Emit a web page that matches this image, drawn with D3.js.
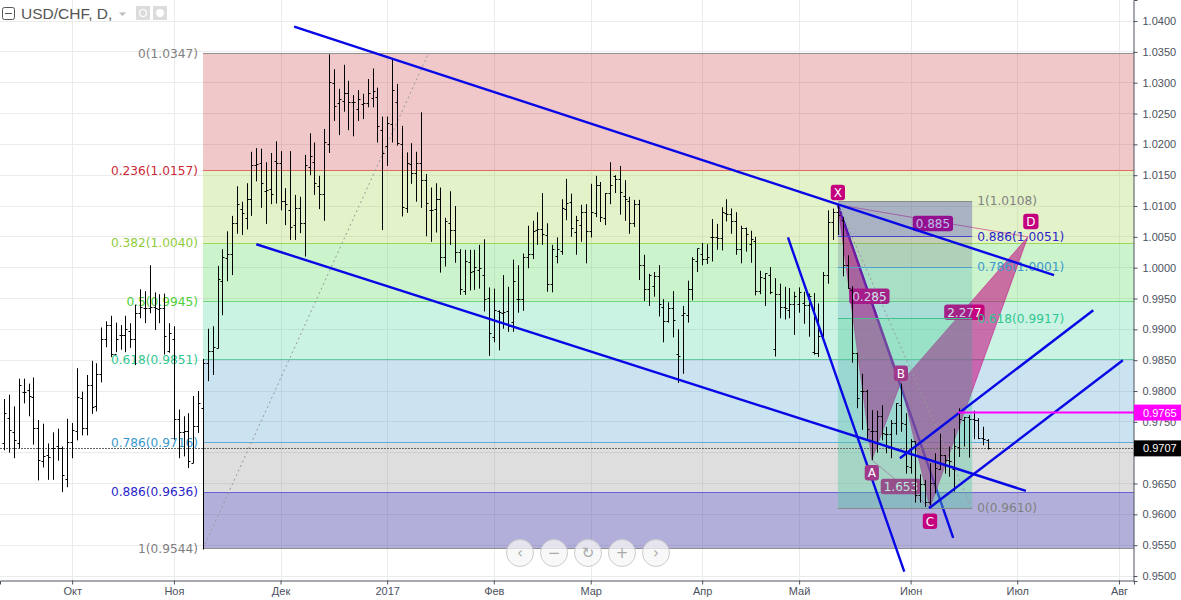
<!DOCTYPE html>
<html>
<head>
<meta charset="utf-8">
<script src="https://cdn.jsdelivr.net/npm/d3@7/dist/d3.min.js"></script>
<style>
  html, body { margin: 0; padding: 0; background: #fff; overflow: hidden; }
  svg { display: block; }
  .axis text { font-family: "Liberation Sans", Arial, sans-serif; font-size: 11px; fill: #4c525e; }
  .axis path, .axis line { stroke: #4c525e; }
  .fib { font-family: "DejaVu Sans", sans-serif; font-size: 12.2px; }
</style>
</head>
<body>
<div id="chart"></div>
<script>
// USD/CHF daily bars, prices x 10000
const highs = [
  9787,9794,9775,9820,9820,9812,9822,9753,9747,9715,
  9733,9739,9710,9755,9748,9837,9799,9826,9849,9845,
  9903,9913,9922,9911,9907,9922,9910,9940,9965,9962,
  10004,9960,9957,9958,9910,9905,9770,9759,9764,9792,
  9800,9852,9901,9905,10003,10030,10059,10084,10132,10107,
  10137,10188,10194,10193,10171,10186,10205,10189,10129,10189,
  10118,10115,10183,10218,10203,10149,10225,10346,10322,10290,
  10329,10303,10280,10288,10282,10306,10323,10292,10245,10245,
  10339,10298,10230,10187,10202,10188,10252,10152,10130,10137,
  10130,10081,10124,10100,10030,10029,10029,10029,10037,10046,
  9968,9966,9931,9988,9969,10013,10004,10023,10068,10076,
  10090,10121,10072,10037,10049,10111,10144,10120,10084,10102,
  10103,10136,10149,10139,10121,10171,10150,10165,10142,10115,
  10110,10110,10021,9990,9993,10004,9949,9944,9962,9900,
  9938,9979,10017,10031,10040,10038,10079,10071,10098,10111,
  10096,10090,10068,10065,10060,10050,9995,9991,10001,9983,
  9974,9969,9967,9961,9968,9961,9958,9959,9942,9993,
  10093,10096,10101,10082,10020,9970,9862,9828,9802,9769,
  9768,9777,9742,9753,9780,9812,9764,9722,9718,9665,
  9656,9683,9699,9731,9696,9710,9739,9772,9758,9761,
  9768,9756,9742,9722
];
const lows = [
  9704,9700,9691,9707,9780,9759,9713,9655,9676,9656,
  9656,9687,9636,9644,9691,9720,9728,9728,9763,9767,
  9814,9871,9855,9863,9867,9863,9870,9842,9918,9910,
  9926,9899,9910,9859,9862,9721,9691,9694,9675,9683,
  9732,9543,9816,9826,9869,9923,9978,9988,10055,10053,
  10062,10084,10140,10097,10071,10103,10104,10093,10069,10045,
  10045,10056,10018,10150,10118,10095,10076,10186,10238,10215,
  10253,10223,10213,10238,10241,10260,10260,10203,10061,10165,
  10203,10198,10083,10089,10136,10107,10097,10051,10042,10057,
  9992,10002,10037,10008,9956,9956,9963,9964,9966,9929,
  9857,9879,9866,9901,9896,9896,9927,9930,9999,10014,
  10037,10037,9961,9960,10007,10021,10077,10050,10021,10042,
  10007,10049,10082,10074,10069,10103,10121,10086,10076,10055,
  10066,9980,9946,9938,9953,9921,9879,9911,9887,9813,
  9828,9911,9947,9993,10004,10006,10010,10029,10028,10075,
  10055,10021,10007,10026,10008,9955,9957,9938,9957,9856,
  9918,9916,9918,9891,9927,9909,9888,9859,9855,9882,
  9974,10045,10053,9986,9966,9846,9772,9737,9720,9688,
  9700,9720,9699,9691,9729,9734,9666,9666,9619,9619,
  9612,9615,9634,9672,9666,9661,9637,9693,9710,9692,
  9722,9722,9712,9705
];
const opens = [
  9715,9756,9733,9715,9797,9801,9790,9739,9686,9695,
  9707,9710,9707,9657,9717,9735,9788,9739,9809,9775,
  9826,9884,9906,9859,9890,9890,9897,9884,9926,9934,
  9934,9936,9932,9933,9864,9884,9754,9732,9735,9683,
  9743,9772,9844,9864,9869,9978,10015,10021,10071,10095,
  10080,10110,10166,10169,10123,10126,10173,10169,10107,10092,
  10068,10096,10071,10162,10171,10131,10119,10199,10299,10266,
  10269,10283,10268,10256,10264,10266,10275,10276,10222,10197,
  10232,10268,10200,10096,10167,10152,10169,10141,10092,10094,
  10110,10017,10072,10060,10024,9961,10008,9994,9996,9987,
  9950,9887,9929,9926,9929,9911,9948,9948,10017,10021,
  10060,10062,10053,9972,10018,10027,10094,10106,10057,10068,
  10089,10058,10088,10133,10080,10120,10148,10143,10115,10108,
  10071,10102,10003,9964,9969,9986,9936,9913,9934,9859,
  9923,9922,9964,10010,10022,10014,10049,10049,10048,10088,
  10086,10075,10029,10063,10037,10043,9961,9983,9988,9867,
  9956,9936,9931,9940,9940,9942,9939,9862,9861,9888,
  9988,10074,10090,10077,10004,9963,9861,9799,9799,9734,
  9734,9758,9729,9729,9748,9777,9745,9676,9718,9630,
  9649,9620,9650,9673,9695,9688,9672,9709,9752,9757,
  9753,9752,9723,9720
];
const closes = [
  9764,9736,9720,9809,9797,9791,9739,9687,9694,9692,
  9706,9706,9663,9717,9736,9790,9739,9809,9774,9826,
  9884,9907,9859,9883,9890,9899,9884,9926,9936,9934,
  9936,9934,9933,9889,9894,9754,9733,9735,9686,9743,
  9780,9844,9864,9870,9981,10017,10021,10072,10102,10088,
  10111,10166,10168,10136,10125,10118,10169,10108,10103,10065,
  10096,10071,10165,10181,10136,10119,10203,10300,10262,10273,
  10283,10268,10268,10273,10266,10282,10285,10229,10185,10234,
  10288,10201,10098,10169,10152,10169,10141,10104,10092,10110,
  10016,10075,10061,10024,9964,10010,9993,10000,9998,9949,
  9894,9930,9928,9927,9904,9977,9948,10017,10021,10058,
  10062,10054,9972,10029,10029,10096,10104,10064,10076,10090,
  10058,10089,10134,10082,10121,10133,10143,10122,10110,10072,
  10102,10004,9964,9988,9986,9940,9913,9934,9915,9856,
  9926,9964,10014,10031,10014,10017,10049,10048,10089,10086,
  10075,10029,10064,10054,10045,9961,9984,9990,9960,9956,
  9936,9933,9940,9953,9959,9939,9954,9861,9888,9988,
  10074,10090,10085,10004,9966,9861,9788,9799,9737,9734,
  9758,9731,9729,9748,9780,9748,9677,9718,9631,9649,
  9620,9650,9675,9695,9688,9685,9710,9753,9757,9753,
  9752,9723,9722,9706
];

// axis ticks (bar index for months)
const monthBars = [14, 35, 57, 79, 101, 121, 144, 164, 187, 209, 230];
const monthLabels = ['Окт', 'Ноя', 'Дек', '2017', 'Фев', 'Мар', 'Апр', 'Май', 'Июн', 'Июл', 'Авг'];
const priceTicks = [1.04, 1.035, 1.03, 1.025, 1.02, 1.015, 1.01, 1.005, 1.0, 0.995, 0.99, 0.985, 0.98, 0.975, 0.97, 0.965, 0.96, 0.955, 0.95];

// big fib retracement
const bigFibStartBar = 41;
const bigFibRatios = [0, 0.236, 0.382, 0.5, 0.618, 0.786, 0.886, 1];
const bigFibPrices = [1.0347, 1.0157, 1.0040, 0.9945, 0.9851, 0.9716, 0.9636, 0.9544];
const bigFibDiagonalEndBar = 87.5;

// small fib, X to C
const smallFibBars = [172, 199.7];
const smallFibRatios = [1, 0.886, 0.786, 0.618, 0];
const smallFibPrices = [1.0108, 1.0051, 1.0001, 0.9917, 0.9610];

// trend lines: bar, price, bar, price
const channelUpper = [59.8, 1.0391, 216.6, 0.9988];
const channelLower = [52.0, 1.0038, 210.8, 0.9638];
const steepLine = [161.7, 1.0049, 185.7, 0.9507];
const xbLine = [172, 1.0102, 195.8, 0.9562];
const riseUpper = [184.8, 0.9691, 224.7, 0.9931];
const riseLower = [190.8, 0.9610, 230.8, 0.9850];

// harmonic pattern
const patternNames = ['X', 'A', 'B', 'C', 'D'];
const patternBars = [172, 179, 185, 191, 211.2];
const patternPrices = [1.0102, 0.9688, 0.9814, 0.9611, 1.0050];
const patternRatios = ['0.285', '2.277', '1.653', '0.885'];

const lastPrice = 0.9707;
const markedPrice = 0.9765;
const markedPriceBar = 196.8;

const width = 1181;
const height = 600;
const plotRight = 1134;
const plotBottom = 581;

const x = d3.scaleLinear().domain([-0.887, 233.1]).range([0, plotRight]);
const y = d3.scaleLinear().domain([0.94919, 1.04341]).range([plotBottom, 0]);

const svg = d3.select('#chart').append('svg')
  .attr('width', width)
  .attr('height', height)
  .style('background', '#fff');

const crisp = v => Math.round(v) + 0.5;
const crispY = v => Math.floor(v) + 0.5;

// grid
svg.append('g').selectAll('line')
  .data(priceTicks)
  .enter().append('line')
  .attr('x1', 0).attr('x2', plotRight)
  .attr('y1', d => crispY(y(d))).attr('y2', d => crispY(y(d)))
  .attr('stroke', '#ebebeb');
svg.append('g').selectAll('line')
  .data(monthBars)
  .enter().append('line')
  .attr('x1', d => crisp(x(d))).attr('x2', d => crisp(x(d)))
  .attr('y1', 0).attr('y2', plotBottom)
  .attr('stroke', '#ebebeb');

// big fib bands
const bigFibFills = ['rgba(196,36,44,.25)', 'rgba(148,204,40,.25)', 'rgba(48,212,56,.25)', 'rgba(44,208,144,.25)',
  'rgba(48,140,196,.25)', 'rgba(124,124,124,.25)', 'rgba(62,58,162,.4)'];
const bigFibLines = ['#909090', '#df6a60', '#9ad85a', '#6fd67c', '#66c8a0', '#62abd8', '#6a62d4', '#909090'];
const bigFibText = ['#808080', '#cc2936', '#8fcc3b', '#4cd137', '#2fc78e', '#3b98cc', '#2a1fc9', '#808080'];

const bigFib = svg.append('g');
bigFibFills.forEach((fill, i) => {
  const top = crispY(y(bigFibPrices[i]));
  bigFib.append('rect')
    .attr('x', x(bigFibStartBar))
    .attr('y', top)
    .attr('width', plotRight - x(bigFibStartBar))
    .attr('height', crispY(y(bigFibPrices[i + 1])) - top)
    .attr('fill', fill);
});
bigFibPrices.forEach((p, i) => {
  bigFib.append('line')
    .attr('x1', x(bigFibStartBar)).attr('x2', plotRight)
    .attr('y1', crispY(y(p))).attr('y2', crispY(y(p)))
    .attr('stroke', bigFibLines[i]);
  bigFib.append('text')
    .attr('class', 'fib')
    .attr('x', x(bigFibStartBar) - 5)
    .attr('y', y(p))
    .attr('dy', '.35em')
    .attr('text-anchor', 'end')
    .attr('fill', bigFibText[i])
    .text(`${bigFibRatios[i]}(${p.toFixed(4)})`);
});
bigFib.append('line')
  .attr('x1', x(bigFibStartBar)).attr('y1', y(bigFibPrices[7]))
  .attr('x2', x(bigFibDiagonalEndBar)).attr('y2', y(bigFibPrices[0]))
  .attr('stroke', '#999').attr('stroke-dasharray', '2,3');

const drawTrend = (g, d) => g.append('line')
  .attr('x1', x(d[0])).attr('y1', y(d[1]))
  .attr('x2', x(d[2])).attr('y2', y(d[3]))
  .attr('stroke', '#0808e6')
  .attr('stroke-width', 2.4);

// this one sits under the pattern
drawTrend(svg, xbLine);

// harmonic pattern
const pts = patternBars.map((b, i) => [x(b), y(patternPrices[i])]);
const triangles = [[0, 1, 2], [2, 3, 4]];
const trianglePath = t => d3.line()(t.map(i => pts[i])) + 'Z';
svg.append('g').selectAll('path')
  .data(triangles)
  .enter().append('path')
  .attr('d', trianglePath)
  .attr('fill', 'rgba(199,0,125,.55)')
  .attr('stroke', 'rgba(199,0,125,.5)');

[[0, 4], [1, 3]].forEach(pair => {
  svg.append('line')
    .attr('x1', pts[pair[0]][0]).attr('y1', pts[pair[0]][1])
    .attr('x2', pts[pair[1]][0]).attr('y2', pts[pair[1]][1])
    .attr('stroke', 'rgba(199,0,125,.5)');
});

const drawPill = (g, cx, cy, label, fill) => {
  const node = g.append('g').attr('transform', `translate(${cx},${cy})`);
  const rect = node.append('rect').attr('fill', fill).attr('rx', 3);
  const txt = node.append('text')
    .attr('text-anchor', 'middle')
    .attr('dy', '.36em')
    .attr('fill', '#fff')
    .style('font-family', '"DejaVu Sans", sans-serif')
    .style('font-size', '12px')
    .text(label);
  const w = txt.node().getComputedTextLength() + 6;
  rect.attr('x', -w / 2).attr('y', -8).attr('width', w).attr('height', 15.5);
};

// ratio pills sit half way along the legs
const ratioLegs = [[0, 2], [2, 4], [1, 3], [0, 4]];
ratioLegs.forEach((leg, i) => {
  const mx = (pts[leg[0]][0] + pts[leg[1]][0]) / 2;
  const my = (pts[leg[0]][1] + pts[leg[1]][1]) / 2;
  drawPill(svg, mx, my + 3, patternRatios[i], '#c4007f');
});

// small fib on top of the pattern
const smallFibFills = ['rgba(50,50,180,.33)', 'rgba(100,100,130,.25)', 'rgba(50,150,170,.22)', 'rgba(80,200,160,.4)'];
const smallFibLines = ['#8a8a8a', '#4a44d0', '#4f9fcf', '#45c090', '#8a8a8a'];
const smallFibText = ['#808080', '#2a1fc9', '#3b98cc', '#2fc78e', '#808080'];
const smallFib = svg.append('g');
smallFibFills.forEach((fill, i) => {
  const top = crispY(y(smallFibPrices[i]));
  smallFib.append('rect')
    .attr('x', x(smallFibBars[0]))
    .attr('y', top)
    .attr('width', x(smallFibBars[1]) - x(smallFibBars[0]))
    .attr('height', crispY(y(smallFibPrices[i + 1])) - top)
    .attr('fill', fill);
});

// bring some of the pattern colour back where the fib box washes it out
svg.append('clipPath').attr('id', 'small-fib-clip')
  .append('rect')
  .attr('x', x(smallFibBars[0]))
  .attr('y', y(smallFibPrices[0]))
  .attr('width', x(smallFibBars[1]) - x(smallFibBars[0]))
  .attr('height', y(smallFibPrices[4]) - y(smallFibPrices[0]));
smallFib.append('g')
  .attr('clip-path', 'url(#small-fib-clip)')
  .selectAll('path')
  .data(triangles)
  .enter().append('path')
  .attr('d', trianglePath)
  .attr('fill', 'rgba(170,0,150,.14)');

smallFibPrices.forEach((p, i) => {
  smallFib.append('line')
    .attr('x1', x(smallFibBars[0])).attr('x2', x(smallFibBars[1]))
    .attr('y1', crispY(y(p))).attr('y2', crispY(y(p)))
    .attr('stroke', smallFibLines[i]);
  smallFib.append('text')
    .attr('class', 'fib')
    .attr('x', x(smallFibBars[1]) + 5)
    .attr('y', y(p))
    .attr('dy', '.35em')
    .attr('fill', smallFibText[i])
    .text(`${smallFibRatios[i]}(${p.toFixed(4)})`);
});
smallFib.append('line')
  .attr('x1', x(smallFibBars[0])).attr('y1', y(patternPrices[0]))
  .attr('x2', x(smallFibBars[1])).attr('y2', y(smallFibPrices[4]))
  .attr('stroke', '#999').attr('stroke-dasharray', '2,3');

// last price line
svg.append('line')
  .attr('x1', 0).attr('x2', plotRight)
  .attr('y1', crispY(y(lastPrice))).attr('y2', crispY(y(lastPrice)))
  .attr('stroke', '#666')
  .attr('stroke-dasharray', '2,1');

// OHLC bars
const bars = svg.append('g').attr('stroke', '#000').attr('fill', 'none');
bars.selectAll('path')
  .data(highs.map((h, i) => ({ i, h, l: lows[i], o: opens[i], c: closes[i] })))
  .enter().append('path')
  .attr('d', d => {
    const bx = crisp(x(d.i));
    const oy = crispY(y(d.o / 10000));
    const cy = crispY(y(d.c / 10000));
    return `M${bx},${y(d.h / 10000)}V${y(d.l / 10000)}M${bx - 2},${oy}H${bx}M${bx},${cy}H${bx + 2}`;
  });

// remaining trend lines
[channelUpper, channelLower, steepLine, riseUpper, riseLower].forEach(d => drawTrend(svg, d));

// marked price line
svg.append('line')
  .attr('x1', x(markedPriceBar)).attr('x2', plotRight)
  .attr('y1', y(markedPrice)).attr('y2', y(markedPrice))
  .attr('stroke', '#ff00ff')
  .attr('stroke-width', 2);

// letter tags, X C D above/below the fib box, A B inside it
const tagOffsets = [-12, 13, -9, 14, -15];
const tagFills = ['#c4007f', '#a0398a', '#a0398a', '#c4007f', '#c4007f'];
patternNames.forEach((name, i) => {
  drawPill(svg, pts[i][0] + (name === 'D' ? 3 : 0), pts[i][1] + tagOffsets[i], name, tagFills[i]);
});

// axes
const xAxis = d3.axisBottom(x)
  .tickValues(monthBars)
  .tickFormat((d, i) => monthLabels[i])
  .tickSizeOuter(0)
  .tickSize(4)
  .tickPadding(3);
svg.append('g')
  .attr('class', 'axis')
  .attr('transform', `translate(0,${plotBottom - 0.5})`)
  .call(xAxis);

// the 0.9700 label sits fully behind the last price tag, so it is left blank
const yAxis = d3.axisRight(y)
  .tickValues(priceTicks)
  .tickFormat(d => (d === 0.97 ? '' : d3.format('.4f')(d)))
  .tickSizeOuter(0)
  .tickSize(4)
  .tickPadding(5);
svg.append('g')
  .attr('class', 'axis')
  .attr('transform', `translate(${plotRight - 0.5},0)`)
  .call(yAxis);

// price tags on the axis
[[markedPrice, '#ff00ff'], [lastPrice, '#000']].forEach(tag => {
  const ty = y(tag[0]);
  svg.append('rect')
    .attr('x', plotRight).attr('y', ty - 8)
    .attr('width', width - plotRight).attr('height', 16)
    .attr('fill', tag[1]);
  svg.append('text')
    .attr('x', plotRight + 9).attr('y', ty)
    .attr('dy', '.36em')
    .attr('fill', '#fff')
    .style('font-family', '"Liberation Sans", Arial, sans-serif')
    .style('font-size', '11px')
    .text(tag[0].toFixed(4));
});

// legend, top left
const legend = svg.append('g');
legend.append('rect')
  .attr('x', 2.5).attr('y', 7.5).attr('width', 12).attr('height', 12).attr('rx', 2)
  .attr('fill', 'none').attr('stroke', '#555');
legend.append('line')
  .attr('x1', 5).attr('x2', 12).attr('y1', 13.5).attr('y2', 13.5)
  .attr('stroke', '#555');
legend.append('text')
  .attr('x', 21).attr('y', 19)
  .attr('fill', '#555')
  .style('font-family', '"Liberation Sans", Arial, sans-serif')
  .style('font-size', '15.5px')
  .text('USD/CHF, D,');
legend.append('path')
  .attr('d', 'M119,12.5h7l-3.5,3.5z')
  .attr('fill', '#bbb');
[136, 153].forEach((bx, i) => {
  legend.append('rect')
    .attr('x', bx).attr('y', 6).attr('width', 14).attr('height', 14)
    .attr('fill', '#dcdcdc');
  legend.append('circle')
    .attr('cx', bx + 7).attr('cy', 13).attr('r', i ? 3 : 3.5)
    .attr('fill', i ? '#fff' : 'none')
    .attr('stroke', '#fff')
    .attr('stroke-width', i ? 2 : 1.2);
});

// zoom buttons
const navGlyphs = ['‹', '−', '↻', '+', '›'];
const nav = svg.append('g').selectAll('g')
  .data(navGlyphs)
  .enter().append('g')
  .attr('transform', (d, i) => `translate(${520 + i * 34},553)`);
nav.append('circle')
  .attr('r', 13.5)
  .attr('fill', 'rgba(245,245,245,.75)')
  .attr('stroke', '#ccc');
nav.append('text')
  .attr('text-anchor', 'middle')
  .attr('dy', '.35em')
  .attr('fill', '#aaa')
  .style('font-family', '"DejaVu Sans", sans-serif')
  .style('font-size', '15px')
  .text(d => d);
</script>
</body>
</html>
